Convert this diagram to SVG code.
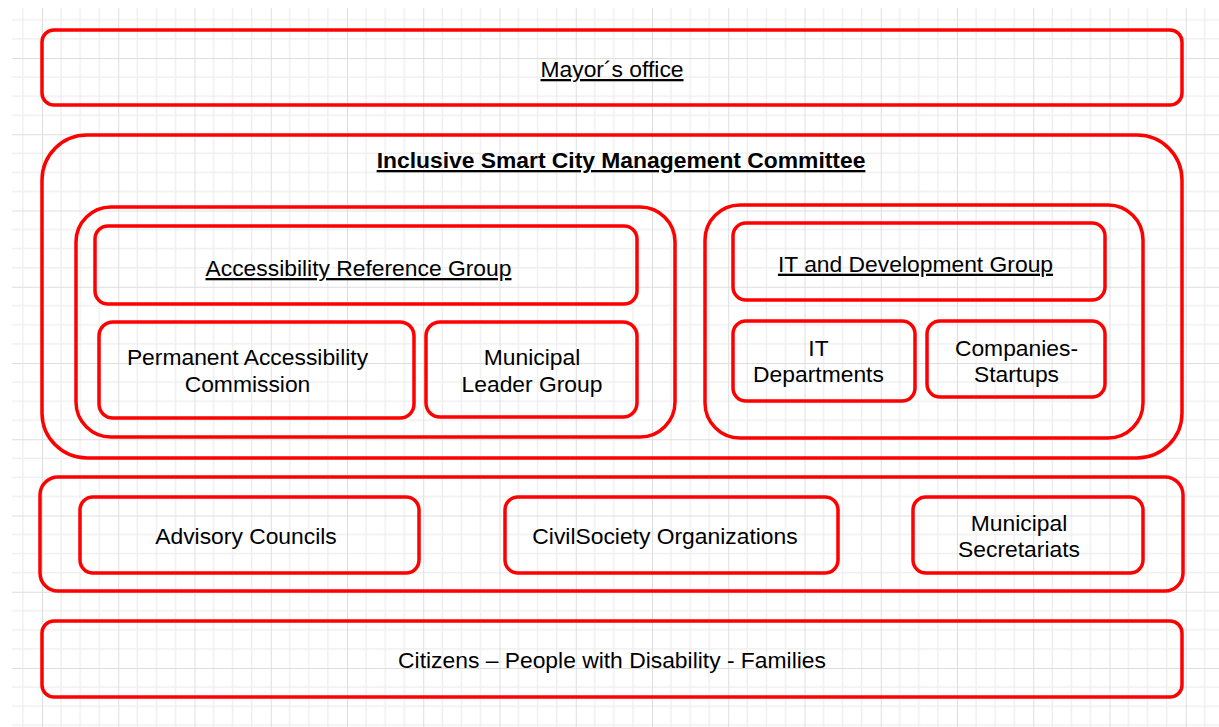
<svg xmlns="http://www.w3.org/2000/svg" width="1219" height="727" viewBox="0 0 1219 727">
<defs>
<pattern id="grid" patternUnits="userSpaceOnUse" x="42" y="58" width="76.25" height="76.25">
<path d="M19.06 0V76.25M38.13 0V76.25M57.19 0V76.25M0 19.06H76.25M0 38.13H76.25M0 57.19H76.25" stroke="#efefef" stroke-width="1.5" fill="none"/>
<path d="M0.5 0V76.25M0 0.5H76.25" stroke="#dedede" stroke-width="1" fill="none"/>
</pattern>
<style>
.b{fill:none;stroke:#ff0000;stroke-width:3.5}
.t{font-family:"Liberation Sans",Arial,Helvetica,sans-serif;font-size:22.85px;fill:#000;text-anchor:middle}
.u{text-decoration:underline}
.bold{font-weight:bold}
</style>
</defs>
<rect width="1219" height="727" fill="#fff"/>
<rect x="12" y="8" width="1207" height="719" fill="url(#grid)"/>
<g id="connectors"></g>
<g id="mayor">
<rect class="b" x="42" y="30" width="1140" height="75" rx="12"/>
<text class="t u" x="612" y="77">Mayor´s office</text>
</g>
<g id="committee">
<rect class="b" x="42" y="135" width="1140" height="323" rx="45"/>
<text class="t u bold" x="621" y="168">Inclusive Smart City Management Committee</text>
</g>
<g id="accessibility-cluster">
<rect class="b" x="76" y="207" width="599" height="230" rx="35"/>
</g>
<g id="accessibility-reference-group">
<rect class="b" x="95" y="226" width="542" height="78" rx="13"/>
<text class="t u" x="358.5" y="276">Accessibility Reference Group</text>
</g>
<g id="permanent-accessibility-commission">
<rect class="b" x="99" y="322" width="315" height="96" rx="14"/>
<text class="t" x="247.5" y="365">Permanent Accessibility</text>
<text class="t" x="247.5" y="391.7">Commission</text>
</g>
<g id="municipal-leader-group">
<rect class="b" x="426" y="322" width="211" height="95" rx="14"/>
<text class="t" x="532" y="365">Municipal</text>
<text class="t" x="532" y="391.7">Leader Group</text>
</g>
<g id="it-cluster">
<rect class="b" x="705" y="205" width="438" height="233" rx="35"/>
</g>
<g id="it-development-group">
<rect class="b" x="733" y="223" width="372" height="77" rx="13"/>
<text class="t u" x="915.5" y="271.7">IT and Development Group</text>
</g>
<g id="it-departments">
<rect class="b" x="733" y="321" width="182" height="80" rx="13"/>
<text class="t" x="818.5" y="355.7">IT</text>
<text class="t" x="818.5" y="381.7">Departments</text>
</g>
<g id="companies-startups">
<rect class="b" x="927" y="321" width="178" height="76" rx="13"/>
<text class="t" x="1016.5" y="355.7">Companies-</text>
<text class="t" x="1016.5" y="381.7">Startups</text>
</g>
<g id="support-row">
<rect class="b" x="40" y="477" width="1143" height="114" rx="18"/>
</g>
<g id="advisory-councils">
<rect class="b" x="80" y="497" width="339" height="76" rx="13"/>
<text class="t" x="246" y="544">Advisory Councils</text>
</g>
<g id="civil-society">
<rect class="b" x="505" y="497" width="333" height="76" rx="13"/>
<text class="t" x="665" y="544">CivilSociety Organizations</text>
</g>
<g id="municipal-secretariats">
<rect class="b" x="913" y="497" width="230" height="76" rx="13"/>
<text class="t" x="1019" y="530.7">Municipal</text>
<text class="t" x="1019" y="556.7">Secretariats</text>
</g>
<g id="citizens">
<rect class="b" x="42" y="621" width="1140" height="76" rx="12"/>
<text class="t" x="612" y="668">Citizens – People with Disability - Families</text>
</g>
</svg>
